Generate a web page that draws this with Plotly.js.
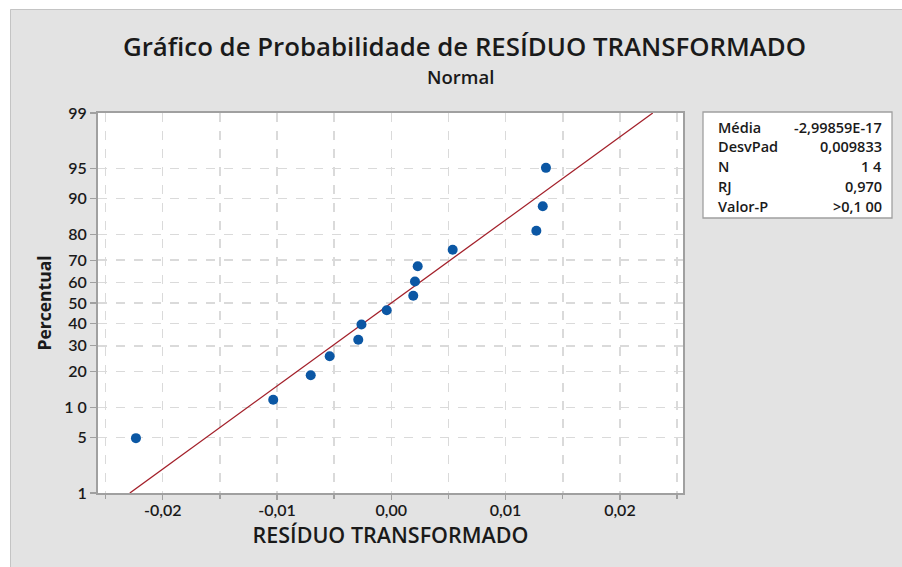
<!DOCTYPE html>
<html>
<head>
<meta charset="utf-8">
<script src="https://cdn.plot.ly/plotly-3.0.1.min.js"></script>
<style>html,body{margin:0;padding:0;background:#fff;}#chart{width:902px;height:567px;}</style>
</head>
<body>
<div id="chart"></div>
<script>
// ---- data ----
const residuals = [-0.02234, -0.01033, -0.00705, -0.00539, -0.00289, -0.00261, -0.00040,
                   0.00192, 0.00207, 0.00231, 0.00537, 0.01269, 0.01325, 0.01353];
const percents = [4.9, 11.8, 18.8, 25.7, 32.6, 39.6, 46.5, 53.5, 60.4, 67.4, 74.3, 81.2, 88.2, 95.1];
const fitMean = 0;
const fitSd = 0.009833;
const fitPercents = [1, 99];
const yTickPercents = [1, 5, 10, 20, 30, 40, 50, 60, 70, 80, 90, 95, 99];
const yTickLabels = ['1', '5', '1 0', '20', '30', '40', '50', '60', '70', '80', '90', '95', '99'];
const xTickVals = [-0.02, -0.01, 0, 0.01, 0.02];
const xTickLabels = ['-0,02', '-0,01', '0,00', '0,01', '0,02'];
const statLabels = ['Média', 'DesvPad', 'N', 'RJ', 'Valor-P'];
const statValues = ['-2,99859E-17', '0,009833', '1 4', '0,970', '>0,1 00'];

// normal probability scale: percent -> standard normal quantile
function normInv(p){
  const a=[-3.969683028665376e+01,2.209460984245205e+02,-2.759285104469687e+02,1.383577518672690e+02,-3.066479806614716e+01,2.506628277459239e+00];
  const b=[-5.447609879822406e+01,1.615858368580409e+02,-1.556989798598866e+02,6.680131188771972e+01,-1.328068155288572e+01];
  const c=[-7.784894002430293e-03,-3.223964580411365e-01,-2.400758277161838e+00,-2.549732539343734e+00,4.374664141464968e+00,2.938163982698783e+00];
  const d=[7.784695709041462e-03,3.224671290700398e-01,2.445134137142996e+00,3.754408661907416e+00];
  const pl=0.02425, ph=1-pl; let q,r;
  if(p<pl){q=Math.sqrt(-2*Math.log(p));return (((((c[0]*q+c[1])*q+c[2])*q+c[3])*q+c[4])*q+c[5])/((((d[0]*q+d[1])*q+d[2])*q+d[3])*q+1);}
  if(p<=ph){q=p-0.5;r=q*q;return (((((a[0]*r+a[1])*r+a[2])*r+a[3])*r+a[4])*r+a[5])*q/(((((b[0]*r+b[1])*r+b[2])*r+b[3])*r+b[4])*r+1);}
  q=Math.sqrt(-2*Math.log(1-p));return -(((((c[0]*q+c[1])*q+c[2])*q+c[3])*q+c[4])*q+c[5])/((((d[0]*q+d[1])*q+d[2])*q+d[3])*q+1);
}
const zOf = p => normInv(p/100);

const FONT = 'Open Sans, sans-serif';
const TICKFONT = 'Lato, Open Sans, sans-serif';
const TXT = '#1a1a1a';
const fitZ = fitPercents.map(zOf);
const fitX = fitZ.map(z => fitMean + fitSd*z);

const traces = [
  {x: fitX, y: fitZ, mode: 'lines', line: {color: '#a3202a', width: 1.3}, hoverinfo: 'skip'},
  {x: residuals, y: percents.map(zOf), mode: 'markers', marker: {color: '#0b57a4', size: 10}}
];

// geometry helpers (paper coordinates from figure pixels)
const L=98, R=683, T=113, B=493;
const px = v => (v-L)/(R-L);
const py = v => (B-v)/(B-T);

const annotations = [
  {text: 'Gráfico de Probabilidade de RESÍDUO TRANSFORMADO', x: px(464), y: py(46), xref:'paper', yref:'paper',
   showarrow:false, xanchor:'center', yanchor:'middle', font:{family:FONT, size:25.8, weight:600, color:TXT}},
  {text: 'Normal', x: px(460), y: py(76), xref:'paper', yref:'paper',
   showarrow:false, xanchor:'center', yanchor:'middle', font:{family:FONT, size:18.5, weight:600, color:TXT}}
];
const rowY = [127, 146, 166, 186, 206];
statLabels.forEach((s,i)=>{
  annotations.push({text: s, x: px(716), y: py(rowY[i]), xref:'paper', yref:'paper', showarrow:false,
    xanchor:'left', yanchor:'middle', font:{family:FONT, size:14.5, weight:600, color:TXT}});
  annotations.push({text: statValues[i], x: px(884), y: py(rowY[i]), xref:'paper', yref:'paper', showarrow:false,
    xanchor:'right', yanchor:'middle', font:{family:FONT, size:14.5, weight:600, color:TXT}});
});

const shapes = [
  {type:'rect', xref:'paper', yref:'paper', x0:px(0), x1:px(902), y0:py(0), y1:py(9), fillcolor:'#ffffff', line:{width:0}},
  {type:'rect', xref:'paper', yref:'paper', x0:px(0), x1:px(10), y0:py(0), y1:py(567), fillcolor:'#ffffff', line:{width:0}},
  {type:'rect', xref:'paper', yref:'paper', x0:px(10.5), x1:px(905), y0:py(9.5), y1:py(570), line:{color:'#c4c4c4', width:1}},
  {type:'rect', xref:'paper', yref:'paper', x0:px(703), x1:px(892), y0:py(218), y1:py(112), fillcolor:'#ffffff', line:{color:'#a0a0a0', width:1.3}}
];

const layout = {
  width: 902, height: 567,
  margin: {l: L, r: 902-R, t: T, b: 567-B, pad: 0},
  paper_bgcolor: '#e3e3e3', plot_bgcolor: '#ffffff',
  showlegend: false,
  font: {family: FONT, color: TXT},
  xaxis: {
    range: [-0.02566, 0.02552], tickvals: xTickVals, ticktext: xTickLabels,
    tickfont: {family: TICKFONT, size: 16, weight: 600, color: TXT},
    ticks: 'outside', ticklen: 5, tickwidth: 1.3, tickcolor: '#a0a0a0', ticklabelstandoff: -3,
    showgrid: true, gridcolor: '#dadada', griddash: 'dash', gridwidth: 1.5,
    minor: {dtick: 0.005, tick0: 0, showgrid: true, gridcolor: '#dadada', griddash: 'dash', gridwidth: 1.5, ticks: 'outside', ticklen: 4, tickcolor: '#a0a0a0'},
    showline: true, linecolor: '#a0a0a0', linewidth: 2, mirror: true, zeroline: false,
    title: {text: 'RESÍDUO TRANSFORMADO', font: {family: FONT, size: 21.5, weight: 600, color: TXT}, standoff: 10}
  },
  yaxis: {
    range: [zOf(1), zOf(99)], tickvals: yTickPercents.map(zOf), ticktext: yTickLabels,
    tickfont: {family: TICKFONT, size: 16, weight: 600, color: TXT},
    ticks: 'outside', ticklen: 6, tickwidth: 1.3, tickcolor: '#a0a0a0',
    showgrid: true, gridcolor: '#dadada', griddash: 'dash', gridwidth: 1.5,
    showline: true, linecolor: '#a0a0a0', linewidth: 2, mirror: true, zeroline: false,
    title: {text: 'Percentual', font: {family: FONT, size: 17.5, weight: 700, color: TXT}, standoff: 8}
  },
  annotations: annotations,
  shapes: shapes
};

Plotly.newPlot('chart', traces, layout, {displayModeBar: false, staticPlot: true});
</script>
</body>
</html>
